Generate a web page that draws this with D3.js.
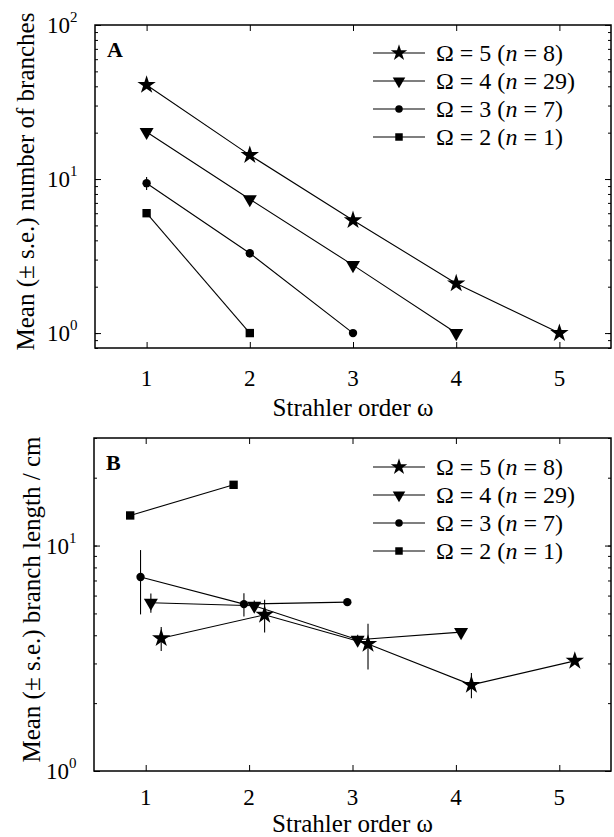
<!DOCTYPE html>
<html>
<head>
<meta charset="utf-8">
<script src="https://cdn.jsdelivr.net/npm/d3@7"></script>
<style>
  body { margin: 0; background: #fff; }
  svg text { font-family: "Liberation Serif", "DejaVu Serif", serif; fill: #000; }
  .axis path { display: none; }
  .axis line { stroke: #000; stroke-width: 1; }
</style>
</head>
<body>
<div id="wrapper"></div>
<script>
// data
const orders = [1, 2, 3, 4, 5]
const omegas = [5, 4, 3, 2]
const nTrees = [8, 29, 7, 1]
const symbolNames = ['star', 'down', 'circle', 'square']

// A: mean number of branches per order
const countO5 = [40.8, 14.3, 5.4, 2.1, 1.0]
const countO4 = [20.2, 7.4, 2.76, 1.0]
const countO3 = [9.4, 3.3, 1.0]
const countO2 = [6.0, 1.0]
const countSe5 = [0.8, 0.4, 0.2, 0.1, 0]
const countSe4 = [0.4, 0.2, 0.1, 0]
const countSe3 = [0.9, 0.2, 0]
const countSe2 = [0, 0]

// B: mean branch length (cm), points shifted sideways per series
const lengthO5 = [3.88, 4.93, 3.66, 2.41, 3.08]
const lengthO4 = [5.58, 5.41, 3.82, 4.13]
const lengthO3 = [7.25, 5.5, 5.61]
const lengthO2 = [13.6, 18.6]
const lengthSe5 = [0.47, 0.82, 0.84, 0.31, 0]
const lengthSe4 = [0.55, 0.3, 0.2, 0]
const lengthSe3 = [2.3, 0.65, 0]
const lengthSe2 = [0, 0]
const shiftB = [0.15, 0.05, -0.05, -0.15]

const xTicks = [1, 2, 3, 4, 5]

function buildSeries(values, errors, shift) {
  return values.map((v, i) => ({ x: orders[i] + shift, y: v, se: errors[i] }))
}

const seriesA = [
  buildSeries(countO5, countSe5, 0),
  buildSeries(countO4, countSe4, 0),
  buildSeries(countO3, countSe3, 0),
  buildSeries(countO2, countSe2, 0)
]
const seriesB = [
  buildSeries(lengthO5, lengthSe5, shiftB[0]),
  buildSeries(lengthO4, lengthSe4, shiftB[1]),
  buildSeries(lengthO3, lengthSe3, shiftB[2]),
  buildSeries(lengthO2, lengthSe2, shiftB[3])
]

const width = 614
const height = 837

const svg = d3.select('#wrapper')
  .append('svg')
    .attr('width', width)
    .attr('height', height)
    .attr('font-family', '"Liberation Serif", serif')

function symbolPath(name, big) {
  const s = big ? 1 : 0.8
  if (name == 'star') return d3.symbol(d3.symbolStar, 105 * s)()
  if (name == 'down') return d3.symbol(d3.symbolTriangle, 85 * s)()
  if (name == 'circle') return d3.symbol(d3.symbolCircle, 55 * s)()
  return d3.symbol(d3.symbolSquare, 70 * s)()
}

function drawPanel(cfg) {
  const x = d3.scaleLinear().domain([0.5, 5.5]).range([cfg.left, cfg.right])
  const y = d3.scaleLog().domain(cfg.yDomain).range([cfg.bottom, cfg.top])
  const g = svg.append('g')
  const innerW = cfg.right - cfg.left
  const innerH = cfg.bottom - cfg.top

  // minor log ticks
  const minor = []
  for (let e = -1; e <= 2; e++) {
    for (let k = 1; k <= 9; k++) {
      const v = k * Math.pow(10, e)
      if (v >= cfg.yDomain[0] && v <= cfg.yDomain[1]) minor.push(v)
    }
  }
  const major = minor.filter(v => Math.abs(Math.log10(v) - Math.round(Math.log10(v))) < 1e-9)

  g.append('g').attr('class', 'axis')
    .attr('transform', `translate(${cfg.left},0)`)
    .call(d3.axisLeft(y).tickValues(minor).tickSize(-3).tickFormat(''))
  g.append('g').attr('class', 'axis')
    .attr('transform', `translate(${cfg.left},0)`)
    .call(d3.axisLeft(y).tickValues(major).tickSize(-6).tickFormat(''))
  g.append('g').attr('class', 'axis')
    .attr('transform', `translate(${cfg.right},0)`)
    .call(d3.axisRight(y).tickValues(minor).tickSize(-3).tickFormat(''))
  g.append('g').attr('class', 'axis')
    .attr('transform', `translate(${cfg.right},0)`)
    .call(d3.axisRight(y).tickValues(major).tickSize(-6).tickFormat(''))
  g.append('g').attr('class', 'axis')
    .attr('transform', `translate(0,${cfg.bottom})`)
    .call(d3.axisBottom(x).tickValues(xTicks).tickSize(-6).tickFormat(''))
  g.append('g').attr('class', 'axis')
    .attr('transform', `translate(0,${cfg.top})`)
    .call(d3.axisTop(x).tickValues(xTicks).tickSize(-6).tickFormat(''))

  g.append('rect')
    .attr('x', cfg.left).attr('y', cfg.top)
    .attr('width', innerW).attr('height', innerH)
    .attr('fill', 'none').attr('stroke', '#000').attr('stroke-width', 1.5)

  // y tick labels 10^k
  const yl = g.selectAll('.ylab').data(major).enter().append('text')
    .attr('class', 'ylab')
    .attr('x', cfg.left - 48)
    .attr('y', d => y(d) + 8)
    .style('font-size', '23px')
  yl.append('tspan').text('10')
  yl.append('tspan').attr('dy', -11).style('font-size', '15px').text(d => Math.round(Math.log10(d)))

  // x tick labels
  g.selectAll('.xlab').data(xTicks).enter().append('text')
    .attr('x', d => x(d))
    .attr('y', cfg.bottom + cfg.xLabOff)
    .attr('text-anchor', 'middle')
    .style('font-size', '23px')
    .text(d => d)

  g.append('text')
    .attr('x', (cfg.left + cfg.right) / 2)
    .attr('y', cfg.bottom + cfg.xTitleOff)
    .attr('text-anchor', 'middle')
    .style('font-size', '25px')
    .text('Strahler order ω')

  g.append('text')
    .attr('transform', `translate(${cfg.yTitleX},${(cfg.top + cfg.bottom) / 2 - 5}) rotate(-90)`)
    .attr('text-anchor', 'middle')
    .style('font-size', '25px')
    .text(cfg.yTitle)

  g.append('text')
    .attr('x', cfg.left + 12)
    .attr('y', cfg.top + 32)
    .style('font-size', '22px')
    .style('font-weight', 'bold')
    .text(cfg.letter)

  const line = d3.line().x(d => x(d.x)).y(d => y(d.y))

  cfg.series.forEach((s, i) => {
    g.append('path')
      .attr('d', line(s))
      .attr('fill', 'none')
      .attr('stroke', '#000')
      .attr('stroke-width', 1.1)

    g.selectAll(null).data(s.filter(d => d.se > 0)).enter().append('line')
      .attr('x1', d => x(d.x)).attr('x2', d => x(d.x))
      .attr('y1', d => y(d.y + d.se)).attr('y2', d => y(Math.max(d.y - d.se, cfg.yDomain[0])))
      .attr('stroke', '#000').attr('stroke-width', 1.1)

    g.selectAll(null).data(s).enter().append('path')
      .attr('d', symbolPath(symbolNames[i], true))
      .attr('transform', d => `translate(${x(d.x)},${y(d.y)})` + (symbolNames[i] == 'down' ? ' rotate(180)' : ''))
      .attr('fill', '#000')
  })

  // legend
  const leg = g.selectAll('.leg').data(omegas).enter().append('g')
    .attr('transform', (d, i) => `translate(0,${cfg.top + cfg.legTop + i * 28})`)
  leg.append('line')
    .attr('x1', 373).attr('x2', 425).attr('y1', 0).attr('y2', 0)
    .attr('stroke', '#000').attr('stroke-width', 1.1)
  leg.append('path')
    .attr('d', (d, i) => symbolPath(symbolNames[i], false))
    .attr('transform', (d, i) => `translate(399,0)` + (symbolNames[i] == 'down' ? ' rotate(180)' : ''))
    .attr('fill', '#000')
  const lt = leg.append('text')
    .attr('x', 436).attr('y', 8)
    .style('font-size', '24px')
  lt.append('tspan').text(d => `Ω = ${d} (`)
  lt.append('tspan').style('font-style', 'italic').text('n')
  lt.append('tspan').text((d, i) => ` = ${nTrees[i]})`)
}

drawPanel({
  letter: 'A', series: seriesA, yDomain: [0.8, 100],
  left: 95, right: 611, top: 25, bottom: 348,
  xLabOff: 38, xTitleOff: 68, yTitleX: 34, legTop: 28,
  yTitle: 'Mean (± s.e.) number of branches'
})
drawPanel({
  letter: 'B', series: seriesB, yDomain: [1, 30],
  left: 94, right: 611, top: 438, bottom: 771,
  xLabOff: 34, xTitleOff: 61, yTitleX: 40, legTop: 29,
  yTitle: 'Mean (± s.e.) branch length / cm'
})
</script>
</body>
</html>
